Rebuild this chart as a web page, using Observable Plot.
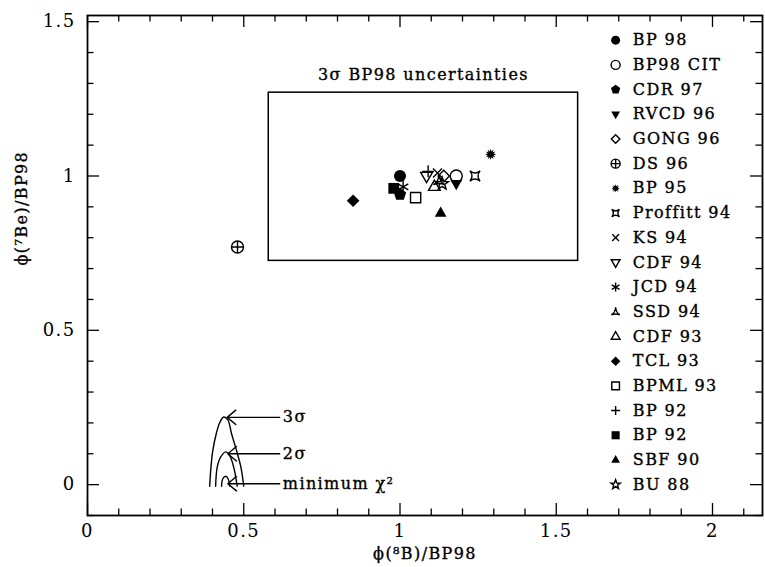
<!DOCTYPE html>
<html>
<head>
<meta charset="utf-8">
<script src="https://cdn.jsdelivr.net/npm/d3@7"></script>
<script src="https://cdn.jsdelivr.net/npm/@observablehq/plot@0.6"></script>
<style>
  html, body { margin: 0; padding: 0; background: #fff; overflow: hidden; }
</style>
</head>
<body>
<div id="chart"></div>
<script>
// ---- data ----
const models = ["BP 98","BP98 CIT","CDR 97","RVCD 96","GONG 96","DS 96","BP 95","Proffitt 94","KS 94","CDF 94","JCD 94","SSD 94","CDF 93","TCL 93","BPML 93","BP 92","BP 92","SBF 90","BU 88"];
const phiB8 = [1.00, 1.18, 1.00, 1.18, 1.14, 0.48, 1.29, 1.24, 1.12, 1.085, 1.01, 1.125, 1.11, 0.85, 1.05, 1.09, 0.98, 1.13, 1.135];
const phiBe7 = [1.00, 1.00, 0.94, 0.975, 1.00, 0.77, 1.07, 1.00, 1.01, 1.00, 0.965, 0.985, 0.965, 0.92, 0.93, 1.015, 0.96, 0.88, 0.975];
const markerNames = ["disc","circle","pentagon","triDownFill","diamondOpen","oplus","burst","astroid","times","triDownOpen","asterisk","tripod","triUpOpen","diamondFill","squareOpen","plus","squareFill","triUpFill","starOpen"];

// 3 sigma BP98 uncertainty box
const boxB8 = [0.58, 1.57];
const boxBe7 = [0.725, 1.27];

// confidence contours
const c3x = [0.391, 0.395, 0.401, 0.412, 0.424, 0.436, 0.449, 0.461, 0.477, 0.491, 0.500];
const c3y = [-0.005, 0.056, 0.110, 0.165, 0.203, 0.219, 0.210, 0.165, 0.110, 0.056, -0.005];
const c2x = [0.410, 0.415, 0.426, 0.442, 0.455, 0.468, 0.479];
const c2y = [-0.005, 0.056, 0.089, 0.106, 0.094, 0.056, -0.005];
const c1x = [0.429, 0.433, 0.442, 0.450, 0.455];
const c1y = [-0.005, 0.019, 0.027, 0.019, -0.005];

const arrowLabels = ["3σ", "2σ", "minimum χ²"];
const arrowY = [0.218, 0.100, 0.003];
const arrowTipX = [0.447, 0.449, 0.449];
const arrowTailX = 0.615;

const xMajor = [0, 0.5, 1, 1.5, 2];
const yMajor = [0, 0.5, 1, 1.5];
const xMinor = d3.range(1, 22).map(i => i / 10).filter(v => !xMajor.some(m => Math.abs(m - v) < 1e-9));
const yMinor = d3.range(-1, 16).map(i => i / 10).filter(v => !yMajor.some(m => Math.abs(m - v) < 1e-9));

// ---- layout ----
const W = 765, H = 567;
const mL = 87, mR = 3, mT = 15, mB = 52;
const xDom = [0, 2.16], yDom = [-0.1, 1.52];
const pxX = (W - mL - mR) / (xDom[1] - xDom[0]);
const pxY = (H - mT - mB) / (yDom[1] - yDom[0]);
const majLen = 12, minLen = 6.5;

// ---- custom symbols ----
function sym(fn) { return { draw(ctx, size) { const r = Math.sqrt(size / Math.PI); fn(ctx, r); } }; }
function poly(ctx, pts) { ctx.moveTo(pts[0][0], pts[0][1]); for (let i = 1; i < pts.length; i++) ctx.lineTo(pts[i][0], pts[i][1]); ctx.closePath(); }
const circ = (ctx, r) => { ctx.moveTo(r, 0); ctx.arc(0, 0, r, 0, 2 * Math.PI); ctx.closePath(); };
const shapes = {
  disc: sym(circ),
  circle: sym(circ),
  pentagon: sym((ctx, r) => poly(ctx, d3.range(5).map(k => { const a = -Math.PI / 2 + 2 * Math.PI * k / 5; return [1.08 * r * Math.cos(a), 1.08 * r * Math.sin(a)]; }))),
  triDownFill: sym((ctx, r) => poly(ctx, [[0, 1.1 * r], [-0.98 * r, -0.6 * r], [0.98 * r, -0.6 * r]])),
  triDownOpen: sym((ctx, r) => poly(ctx, [[0, 1.1 * r], [-0.98 * r, -0.6 * r], [0.98 * r, -0.6 * r]])),
  triUpFill: sym((ctx, r) => poly(ctx, [[0, -1.1 * r], [-0.98 * r, 0.6 * r], [0.98 * r, 0.6 * r]])),
  triUpOpen: sym((ctx, r) => poly(ctx, [[0, -1.1 * r], [-0.98 * r, 0.6 * r], [0.98 * r, 0.6 * r]])),
  diamondOpen: sym((ctx, r) => poly(ctx, [[0, -0.95 * r], [0.95 * r, 0], [0, 0.95 * r], [-0.95 * r, 0]])),
  diamondFill: sym((ctx, r) => poly(ctx, [[0, -1.05 * r], [1.05 * r, 0], [0, 1.05 * r], [-1.05 * r, 0]])),
  oplus: sym((ctx, r) => { circ(ctx, r); ctx.moveTo(-r, 0); ctx.lineTo(r, 0); ctx.moveTo(0, -r); ctx.lineTo(0, r); }),
  burst: sym((ctx, r) => poly(ctx, d3.range(24).map(k => { const a = Math.PI * k / 12; const rr = (k % 2 ? 0.5 : 0.95) * r; return [rr * Math.cos(a), rr * Math.sin(a)]; }))),
  astroid: sym((ctx, r) => { const s = 0.85 * r, c = 0.15 * r; ctx.moveTo(-s, -s); ctx.quadraticCurveTo(0, -c, s, -s); ctx.quadraticCurveTo(c, 0, s, s); ctx.quadraticCurveTo(0, c, -s, s); ctx.quadraticCurveTo(-c, 0, -s, -s); ctx.closePath(); }),
  times: sym((ctx, r) => { const s = 0.75 * r; ctx.moveTo(-s, -s); ctx.lineTo(s, s); ctx.moveTo(-s, s); ctx.lineTo(s, -s); }),
  asterisk: sym((ctx, r) => { for (let k = 0; k < 3; k++) { const a = Math.PI / 2 + Math.PI * k / 3; ctx.moveTo(r * Math.cos(a), r * Math.sin(a)); ctx.lineTo(-r * Math.cos(a), -r * Math.sin(a)); } }),
  tripod: sym((ctx, r) => { ctx.moveTo(0, -r); ctx.quadraticCurveTo(0.12 * r, 0.3 * r, 0.95 * r, 0.65 * r); ctx.quadraticCurveTo(0, 0.3 * r, -0.95 * r, 0.65 * r); ctx.quadraticCurveTo(-0.12 * r, 0.3 * r, 0, -r); ctx.closePath(); }),
  squareOpen: sym((ctx, r) => { const s = 0.85 * r; poly(ctx, [[-s, -s], [s, -s], [s, s], [-s, s]]); }),
  squareFill: sym((ctx, r) => { const s = 0.9 * r; poly(ctx, [[-s, -s], [s, -s], [s, s], [-s, s]]); }),
  plus: sym((ctx, r) => { ctx.moveTo(-r, 0); ctx.lineTo(r, 0); ctx.moveTo(0, -r); ctx.lineTo(0, r); }),
  starOpen: sym((ctx, r) => poly(ctx, d3.range(10).map(k => { const a = -Math.PI / 2 + Math.PI * k / 5; const rr = (k % 2 ? 0.45 : 1.1) * r; return [rr * Math.cos(a), rr * Math.sin(a)]; })))
};
const filled = new Set(["disc", "pentagon", "triDownFill", "triUpFill", "diamondFill", "squareFill", "burst"]);

const rows = models.map((m, i) => ({ model: m, b8: phiB8[i], be7: phiBe7[i], marker: markerNames[i], idx: i }));

function symbolMark(row, opts) {
  const isFill = filled.has(row.marker);
  return Plot.dot([row], {
    ...opts,
    symbol: shapes[row.marker],
    fill: isFill ? "black" : "none",
    stroke: isFill ? "none" : "black",
    strokeWidth: 1.4
  });
}

// legend placement (in data units, one row per model)
const legTop = 1.44, legStep = 0.08, legSymX = 1.69, legTextX = 1.745;
const textInk = { stroke: "black", strokeWidth: 0.35, fill: "black" };

const marks = [
  Plot.frame({ stroke: "black", strokeWidth: 1.8 }),
  // inward ticks on all four sides
  Plot.ruleX(xMajor, { x: d => d, y1: yDom[0], y2: yDom[0] + majLen / pxY, stroke: "black", strokeWidth: 1.3 }),
  Plot.ruleX(xMinor, { x: d => d, y1: yDom[0], y2: yDom[0] + minLen / pxY, stroke: "black", strokeWidth: 1.3 }),
  Plot.ruleX(xMajor, { x: d => d, y1: yDom[1] - majLen / pxY, y2: yDom[1], stroke: "black", strokeWidth: 1.3 }),
  Plot.ruleX(xMinor, { x: d => d, y1: yDom[1] - minLen / pxY, y2: yDom[1], stroke: "black", strokeWidth: 1.3 }),
  Plot.ruleY(yMajor, { y: d => d, x1: xDom[0], x2: xDom[0] + majLen / pxX, stroke: "black", strokeWidth: 1.3 }),
  Plot.ruleY(yMinor, { y: d => d, x1: xDom[0], x2: xDom[0] + minLen / pxX, stroke: "black", strokeWidth: 1.3 }),
  Plot.ruleY(yMajor, { y: d => d, x1: xDom[1] - majLen / pxX, x2: xDom[1], stroke: "black", strokeWidth: 1.3 }),
  Plot.ruleY(yMinor, { y: d => d, x1: xDom[1] - minLen / pxX, x2: xDom[1], stroke: "black", strokeWidth: 1.3 }),
  Plot.axisX({ ticks: xMajor, tickSize: 0, tickPadding: 9, tickFormat: d => String(d), fontSize: 18, label: null }),
  Plot.axisY({ ticks: yMajor, tickSize: 0, tickPadding: 12, tickFormat: d => String(d), fontSize: 18, label: null }),
  Plot.text(["ϕ(⁸B)/BP98"], { frameAnchor: "bottom", dy: 43, text: d => d, fontSize: 16, ...textInk }),
  Plot.text(["ϕ(⁷Be)/BP98"], { frameAnchor: "left", dx: -66, rotate: -90, text: d => d, fontSize: 16, ...textInk }),
  // uncertainty box
  Plot.rect([{ x1: boxB8[0], x2: boxB8[1], y1: boxBe7[0], y2: boxBe7[1] }], { x1: "x1", x2: "x2", y1: "y1", y2: "y2", fill: "none", stroke: "black", strokeWidth: 1.5 }),
  Plot.text(["3σ BP98 uncertainties"], { x: (boxB8[0] + boxB8[1]) / 2, y: boxBe7[1] + 0.057, text: d => d, fontSize: 16, ...textInk }),
  // contours
  Plot.line(c3x.map((x, i) => ({ x, y: c3y[i] })), { x: "x", y: "y", curve: "catmull-rom", stroke: "black", strokeWidth: 1.4 }),
  Plot.line(c2x.map((x, i) => ({ x, y: c2y[i] })), { x: "x", y: "y", curve: "catmull-rom", stroke: "black", strokeWidth: 1.4 }),
  Plot.line(c1x.map((x, i) => ({ x, y: c1y[i] })), { x: "x", y: "y", curve: "catmull-rom", stroke: "black", strokeWidth: 1.4 }),
  Plot.arrow(arrowLabels.map((t, i) => ({ t, y: arrowY[i], x2: arrowTipX[i] })), { x1: () => arrowTailX, x2: "x2", y1: "y", y2: "y", stroke: "black", strokeWidth: 1.4, headLength: 12, headAngle: 80, bend: 0 }),
  Plot.text(arrowLabels.map((t, i) => ({ t, y: arrowY[i] })), { x: () => arrowTailX + 0.01, y: "y", text: "t", textAnchor: "start", fontSize: 16, ...textInk }),
  // model points
  ...rows.map(r => symbolMark(r, { x: "b8", y: "be7", r: 6 })),
  // legend
  ...rows.map(r => symbolMark(r, { x: () => legSymX, y: d => legTop - legStep * d.idx, r: 4.5 })),
  Plot.text(rows, { x: () => legTextX, y: d => legTop - legStep * d.idx, text: "model", textAnchor: "start", fontSize: 16, ...textInk })
];

const chart = Plot.plot({
  width: W, height: H,
  marginLeft: mL, marginRight: mR, marginTop: mT, marginBottom: mB,
  x: { domain: xDom },
  y: { domain: yDom },
  style: { fontFamily: "'DejaVu Serif', serif", fontSize: "16px", color: "black", background: "white", letterSpacing: "1.4px" },
  marks
});
document.getElementById("chart").appendChild(chart);
</script>
</body>
</html>
